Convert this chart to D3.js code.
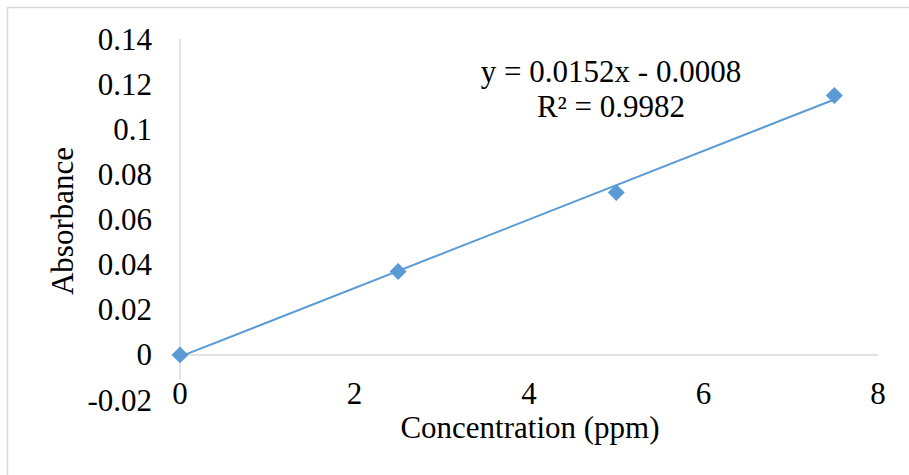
<!DOCTYPE html>
<html>
<head>
<meta charset="utf-8">
<script src="https://cdn.jsdelivr.net/npm/d3@7"></script>
<style>
  html, body { margin: 0; padding: 0; background: #fff; }
  svg { display: block; }
  text { font-family: "Times New Roman", "Liberation Serif", serif; fill: #000; }
</style>
</head>
<body>
<svg width="909" height="475"></svg>
<script>
// data
const concentration = [0, 2.5, 5, 7.5];
const absorbance = [0, 0.037, 0.072, 0.115];
const xTicks = [0, 2, 4, 6, 8];
const yTicks = [-0.02, 0, 0.02, 0.04, 0.06, 0.08, 0.1, 0.12, 0.14];
const slope = 0.0152, intercept = -0.0008;
const equationLines = ["y = 0.0152x - 0.0008", "R² = 0.9982"];

const svg = d3.select("svg");
const blue = "#5b9bd5", axisGrey = "#d9d9d9";
const fontSize = 31;

// chart frame (cropped on right/bottom in the original)
svg.append("rect")
  .attr("x", 7.5).attr("y", 7.5)
  .attr("width", 920).attr("height", 480)
  .attr("fill", "none")
  .attr("stroke", axisGrey)
  .attr("stroke-width", 1.5);

const x = d3.scaleLinear().domain([0, 8]).range([180, 878]);
const y = d3.scaleLinear().domain([-0.02, 0.14]).range([400, 39]);

// horizontal axis line at y = 0
svg.append("line")
  .attr("x1", x(0)).attr("x2", x(8))
  .attr("y1", y(0)).attr("y2", y(0))
  .attr("stroke", axisGrey).attr("stroke-width", 1.5);

// vertical axis line
svg.append("line")
  .attr("x1", x(0)).attr("x2", x(0))
  .attr("y1", y(0.14)).attr("y2", y(-0.0108))
  .attr("stroke", axisGrey).attr("stroke-width", 1.5);

// y tick labels (plain hyphen for the minus, as in Excel)
svg.selectAll(".ylab")
  .data(yTicks)
  .enter()
  .append("text")
  .attr("class", "ylab")
  .attr("x", 152)
  .attr("y", d => y(d))
  .attr("dy", "0.34em")
  .attr("text-anchor", "end")
  .style("font-size", fontSize + "px")
  .text(d => String(+d.toFixed(2)));

// x tick labels (low position)
svg.selectAll(".xlab")
  .data(xTicks)
  .enter()
  .append("text")
  .attr("class", "xlab")
  .attr("x", d => x(d))
  .attr("y", 404)
  .attr("text-anchor", "middle")
  .style("font-size", fontSize + "px")
  .text(d => d);

// axis titles
svg.append("text")
  .attr("x", 530).attr("y", 438)
  .attr("text-anchor", "middle")
  .style("font-size", fontSize + "px")
  .text("Concentration (ppm)");

svg.append("text")
  .attr("transform", "translate(73,221) rotate(-90)")
  .attr("text-anchor", "middle")
  .style("font-size", fontSize + "px")
  .text("Absorbance");

// linear trendline
const xMin = d3.min(concentration), xMax = d3.max(concentration);
svg.append("line")
  .attr("x1", x(xMin)).attr("y1", y(slope * xMin + intercept))
  .attr("x2", x(xMax)).attr("y2", y(slope * xMax + intercept))
  .attr("stroke", blue)
  .attr("stroke-width", 2);

// diamond markers
const points = concentration.map((c, i) => ({ c, a: absorbance[i] }));
svg.selectAll(".pt")
  .data(points)
  .enter()
  .append("path")
  .attr("class", "pt")
  .attr("d", d3.symbol(d3.symbolSquare, 144))
  .attr("transform", d => `translate(${x(d.c)},${y(d.a)}) rotate(45)`)
  .attr("fill", blue);

// trendline equation
svg.selectAll(".eq")
  .data(equationLines)
  .enter()
  .append("text")
  .attr("class", "eq")
  .attr("x", 611)
  .attr("y", (d, i) => 82 + i * 35)
  .attr("text-anchor", "middle")
  .style("font-size", fontSize + "px")
  .text(d => d);
</script>
</body>
</html>
